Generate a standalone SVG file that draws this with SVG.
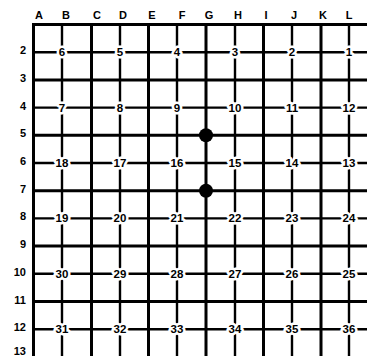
<svg xmlns="http://www.w3.org/2000/svg" width="367" height="356" viewBox="0 0 367 356">
<style>
.ln{stroke:#000;stroke-width:3;fill:none}
.th{stroke:#000;stroke-width:2.4;fill:none}
.lab{font-family:"Liberation Sans",Arial,sans-serif;font-weight:bold;font-size:11px;fill:#000}
.num{font-family:"Liberation Sans",Arial,sans-serif;font-weight:bold;font-size:11.5px;fill:#000;text-anchor:middle;stroke:#fff;stroke-width:5;paint-order:stroke;stroke-linejoin:round}
</style>
<rect width="367" height="356" fill="#fff"/>
<g id="labels" class="lab">
<g text-anchor="middle">
<text x="39" y="19">A</text><text x="66" y="19">B</text><text x="97" y="19">C</text><text x="123" y="19">D</text><text x="152" y="19">E</text><text x="182" y="19">F</text><text x="209" y="19">G</text><text x="238" y="19">H</text><text x="266" y="19">I</text><text x="294" y="19">J</text><text x="323" y="19">K</text><text x="349" y="19">L</text>
</g>
<g text-anchor="end">
<text x="26" y="54">2</text><text x="26" y="82">3</text><text x="26" y="110">4</text><text x="26" y="137">5</text><text x="26" y="165">6</text><text x="26" y="193">7</text><text x="26" y="220">8</text><text x="26" y="248">9</text><text x="26" y="276">10</text><text x="26" y="304">11</text><text x="26" y="331">12</text><text x="26" y="355">13</text>
</g>
</g>
<g id="connectors">
<path class="ln" d="M32 24.5H367M32 79.9H367M32 135.3H367M32 190.7H367M32 246.1H367M32 301.5H367"/>
<path class="th" d="M33 52.2H367M33 107.6H367M33 163H367M33 218.4H367M33 273.8H367M33 329.2H367"/>
<path class="ln" d="M33.5 23V356M91.5 23V356M148.5 23V356M206 23V356M263.5 23V356M321 23V356"/>
<path class="th" d="M62 23V356M120 23V356M177 23V356M235 23V356M292 23V356M349 23V356"/>
</g>
<g id="points">
<g id="r2"><text class="num" x="62" y="56.2">6</text><text class="num" x="120" y="56.2">5</text><text class="num" x="177" y="56.2">4</text><text class="num" x="235" y="56.2">3</text><text class="num" x="292" y="56.2">2</text><text class="num" x="349" y="56.2">1</text></g>
<g id="r4"><text class="num" x="62" y="111.6">7</text><text class="num" x="120" y="111.6">8</text><text class="num" x="177" y="111.6">9</text><text class="num" x="235" y="111.6">10</text><text class="num" x="292" y="111.6">11</text><text class="num" x="349" y="111.6">12</text></g>
<g id="r6"><text class="num" x="62" y="167">18</text><text class="num" x="120" y="167">17</text><text class="num" x="177" y="167">16</text><text class="num" x="235" y="167">15</text><text class="num" x="292" y="167">14</text><text class="num" x="349" y="167">13</text></g>
<g id="r8"><text class="num" x="62" y="222.4">19</text><text class="num" x="120" y="222.4">20</text><text class="num" x="177" y="222.4">21</text><text class="num" x="235" y="222.4">22</text><text class="num" x="292" y="222.4">23</text><text class="num" x="349" y="222.4">24</text></g>
<g id="r10"><text class="num" x="62" y="277.8">30</text><text class="num" x="120" y="277.8">29</text><text class="num" x="177" y="277.8">28</text><text class="num" x="235" y="277.8">27</text><text class="num" x="292" y="277.8">26</text><text class="num" x="349" y="277.8">25</text></g>
<g id="r12"><text class="num" x="62" y="333.2">31</text><text class="num" x="120" y="333.2">32</text><text class="num" x="177" y="333.2">33</text><text class="num" x="235" y="333.2">34</text><text class="num" x="292" y="333.2">35</text><text class="num" x="349" y="333.2">36</text></g>
</g>
<g id="stones">
<circle id="stone-g5" cx="206" cy="135.3" r="7"/>
<circle id="stone-g7" cx="206" cy="190.7" r="7"/>
</g>
</svg>
